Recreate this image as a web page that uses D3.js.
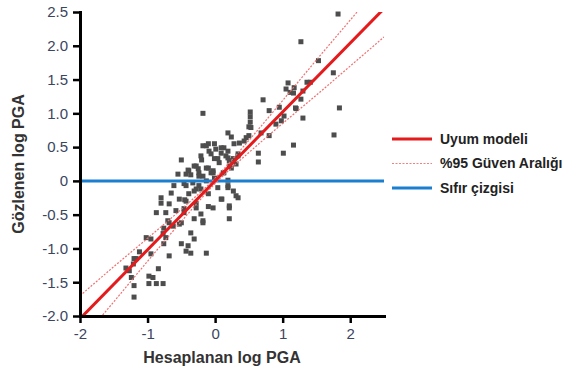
<!DOCTYPE html>
<html>
<head>
<meta charset="utf-8">
<script src="https://cdn.jsdelivr.net/npm/d3@7"></script>
<style>
  body { margin: 0; background: #fff; }
  svg { display: block; font-family: "Liberation Sans", Arial, sans-serif; }
</style>
</head>
<body>
<svg id="chart" width="576" height="371"></svg>
<script>
// observed vs calculated log PGA, [hesaplanan, gozlenen]
const olcumler = [
  [1.82, 2.47], [1.27, 2.06], [1.53, 1.78], [1.75, 1.60], [1.36, 1.46], [1.41, 1.46],
  [1.16, 1.30], [1.30, 1.33], [1.27, 1.21], [1.19, 1.08], [1.84, 1.08], [1.30, 0.93],
  [1.76, 0.68], [1.08, 1.45], [1.05, 1.36], [1.11, 1.31], [1.17, 1.38], [0.71, 1.20],
  [0.95, 1.09], [0.80, 1.04], [0.52, 1.02], [0.52, 0.95], [0.52, 0.87], [0.50, 0.80],
  [1.20, 1.07], [1.02, 0.96], [0.90, 0.84], [0.98, 0.89], [0.80, 0.67], [0.50, 0.67],
  [0.68, 0.71], [0.43, 0.59], [0.36, 0.56], [1.16, 0.53], [1.01, 0.41], [0.64, 0.41],
  [0.64, 0.28], [0.34, 0.37], [-0.18, 1.00], [0.19, 0.71], [0.46, 0.64], [-0.10, 0.55],
  [-0.09, 0.44], [0.01, 0.47], [0.09, 0.41], [0.19, 0.44], [0.16, 0.37], [0.27, 0.33],
  [-0.21, 0.37], [-0.01, 0.33], [0.06, 0.27], [0.21, 0.22], [-0.25, 0.18], [-0.10, 0.19],
  [-0.03, 0.15], [0.12, 0.12], [-0.18, 0.07], [-0.24, -0.07], [-0.28, -0.12], [0.19, -0.07],
  [0.10, -0.27], [0.34, -0.25], [0.21, -0.40], [-0.10, -0.38], [-0.21, -0.49], [0.21, -0.56],
  [-0.18, -0.62], [0.31, -0.22], [-0.13, -1.07], [0.27, -0.15], [-0.18, 0.52], [-0.50, 0.31],
  [-0.39, 0.15], [-0.28, 0.22], [-0.55, 0.10], [-0.24, 0.12], [-0.61, -0.07], [-0.43, -0.07],
  [-0.31, -0.15], [-0.65, -0.18], [-0.80, -0.25], [-0.43, -0.30], [-0.68, -0.34], [-0.53, -0.27],
  [-0.28, -0.33], [-0.87, -0.47], [-0.73, -0.47], [-0.46, -0.47], [-0.28, -0.40], [-0.31, -0.56],
  [-0.68, -0.62], [-0.53, -0.64], [-0.76, -0.70], [-0.18, -0.59], [-0.58, -0.44], [-0.80, -0.33],
  [-0.70, -0.59], [-0.62, -0.67], [-0.50, -0.62], [-0.36, -0.77], [-0.31, -0.86], [-0.50, -0.93],
  [-0.40, -0.96], [-0.43, -1.04], [-0.36, -1.07], [-0.76, -0.93], [-0.73, -0.84], [-0.77, -0.78],
  [-1.02, -0.84], [-0.95, -0.86], [-0.68, -1.11], [-0.95, -1.08], [-1.17, -1.15], [-1.21, -1.23],
  [-0.84, -1.30], [-0.98, -1.41], [-1.27, -1.33], [-1.24, -1.43], [-0.98, -1.52], [-0.87, -1.52],
  [-0.77, -1.52], [-1.20, -1.55], [-1.20, -1.72], [-1.32, -1.29], [-0.13, 0.52], [-0.01, 0.55],
  [0.13, 0.49], [0.28, 0.55], [0.34, 0.40], [-0.06, 0.40], [-0.20, 0.31], [0.04, 0.33],
  [0.19, 0.34], [-0.31, 0.22], [-0.13, 0.19], [0.24, 0.19], [0.31, 0.25], [-0.03, 0.12],
  [0.13, 0.12], [-0.43, 0.10], [-0.24, 0.07], [-0.13, 0.00], [-0.01, 0.04], [-0.46, -0.04],
  [-0.33, -0.03], [0.04, -0.10], [0.19, -0.10], [-0.21, -0.12], [-0.39, -0.19], [-0.10, -0.19],
  [-0.45, -0.28], [0.09, -0.27], [0.21, -0.37], [-0.03, -0.40], [-0.46, -0.41], [0.24, 0.65],
  [0.09, 0.49], [-0.40, 0.16], [-0.36, 0.09], [-0.06, 0.12], [0.21, 0.30], [0.19, 0.01],
  [0.53, 0.79], [-0.92, -1.43], [-1.12, -1.05], [-1.20, -1.15]
];

// fitted model y = a*x + b
const uyumEgim = 1.02;
const uyumKesisim = 0;

// 95% band
const bandX = [-2, -1.5, -1, -0.5, 0, 0.5, 1, 1.5, 2, 2.5];
const bandUst = [-1.70, -1.27, -0.85, -0.42, 0.04, 0.60, 1.19, 1.79, 2.38, 2.97];
const bandAlt = [-2.38, -1.79, -1.19, -0.60, -0.04, 0.42, 0.85, 1.27, 1.70, 2.13];

const xTicks = [-2, -1, 0, 1, 2];
const yTicks = [-2, -1.5, -1, -0.5, 0, 0.5, 1, 1.5, 2, 2.5];
const legendLabels = ['Uyum modeli', '%95 Güven Aralığı', 'Sıfır çizgisi'];

const svg = d3.select('#chart');

const x = d3.scaleLinear().domain([-2, 2.5]).range([80, 384]);
const y = d3.scaleLinear().domain([-2, 2.5]).range([316, 12]);

svg.append('defs').append('clipPath').attr('id', 'plot-clip')
  .append('rect')
  .attr('x', x(-2)).attr('y', y(2.5))
  .attr('width', x(2.5) - x(-2)).attr('height', y(-2) - y(2.5));

// points
svg.append('g')
  .selectAll('rect')
  .data(olcumler)
  .enter()
  .append('rect')
  .attr('x', d => x(d[0]) - 2.5)
  .attr('y', d => y(d[1]) - 2.5)
  .attr('width', 5)
  .attr('height', 5)
  .attr('fill', '#4d4d4d');

const plot = svg.append('g').attr('clip-path', 'url(#plot-clip)');

// zero line
plot.append('line')
  .attr('x1', x(-2)).attr('x2', x(2.5))
  .attr('y1', y(0)).attr('y2', y(0))
  .attr('stroke', '#1a7fd0')
  .attr('stroke-width', 3);

// confidence band
const bandLine = d3.line().curve(d3.curveMonotoneX);
[bandUst, bandAlt].forEach(vals => {
  plot.append('path')
    .attr('d', bandLine(bandX.map((v, i) => [x(v), y(vals[i])])))
    .attr('fill', 'none')
    .attr('stroke', '#f07070')
    .attr('stroke-width', 1.2)
    .attr('stroke-dasharray', '2,1.5');
});

// fit line
plot.append('line')
  .attr('x1', x(-2)).attr('y1', y(uyumEgim * -2 + uyumKesisim))
  .attr('x2', x(2.5)).attr('y2', y(uyumEgim * 2.5 + uyumKesisim))
  .attr('stroke', '#e41a1c')
  .attr('stroke-width', 3);

// axes, hyphen instead of unicode minus like the original
const yFmt = d => d === 0 ? '0' : d3.format('.1f')(d).replace('\u2212', '-');
const xFmt = d => String(d);

const yAxis = svg.append('g')
  .attr('transform', `translate(${x(-2)},0)`)
  .call(d3.axisLeft(y).tickValues(yTicks).tickFormat(yFmt).tickSize(7).tickSizeOuter(0).tickPadding(5));

const xAxis = svg.append('g')
  .attr('transform', `translate(0,${y(-2)})`)
  .call(d3.axisBottom(x).tickValues(xTicks).tickFormat(xFmt).tickSize(7).tickSizeOuter(0).tickPadding(5));

[yAxis, xAxis].forEach(a => {
  a.select('.domain').attr('stroke', '#000').attr('stroke-width', 3).attr('stroke-linecap', 'square');
  a.selectAll('.tick line').attr('stroke', '#000').attr('stroke-width', 2.5);
  a.selectAll('.tick text')
    .attr('fill', '#3a4560')
    .style('font-size', '15px');
});

// axis titles
svg.append('text')
  .attr('transform', `translate(24,${(y(-2) + y(2.5)) / 2}) rotate(-90)`)
  .attr('text-anchor', 'middle')
  .attr('fill', '#333')
  .style('font-size', '16px')
  .style('font-weight', 'bold')
  .text('Gözlenen log PGA');

svg.append('text')
  .attr('x', 222)
  .attr('y', 363)
  .attr('text-anchor', 'middle')
  .attr('fill', '#333')
  .style('font-size', '16px')
  .style('font-weight', 'bold')
  .text('Hesaplanan log PGA');

// legend
const legendStyles = [
  { stroke: '#e41a1c', width: 3, dash: null },
  { stroke: '#f28080', width: 1.2, dash: '2,1.5' },
  { stroke: '#1a7fd0', width: 3, dash: null }
];

const legend = svg.append('g');
legendLabels.forEach((lbl, i) => {
  const ly = 139 + i * 24.5;
  legend.append('line')
    .attr('x1', 392).attr('x2', 432)
    .attr('y1', ly).attr('y2', ly)
    .attr('stroke', legendStyles[i].stroke)
    .attr('stroke-width', legendStyles[i].width)
    .attr('stroke-dasharray', legendStyles[i].dash);
  legend.append('text')
    .attr('x', 440)
    .attr('y', ly)
    .attr('dy', '0.35em')
    .attr('fill', '#222')
    .style('font-size', '14px')
    .style('font-weight', 'bold')
    .text(lbl);
});
</script>
</body>
</html>
